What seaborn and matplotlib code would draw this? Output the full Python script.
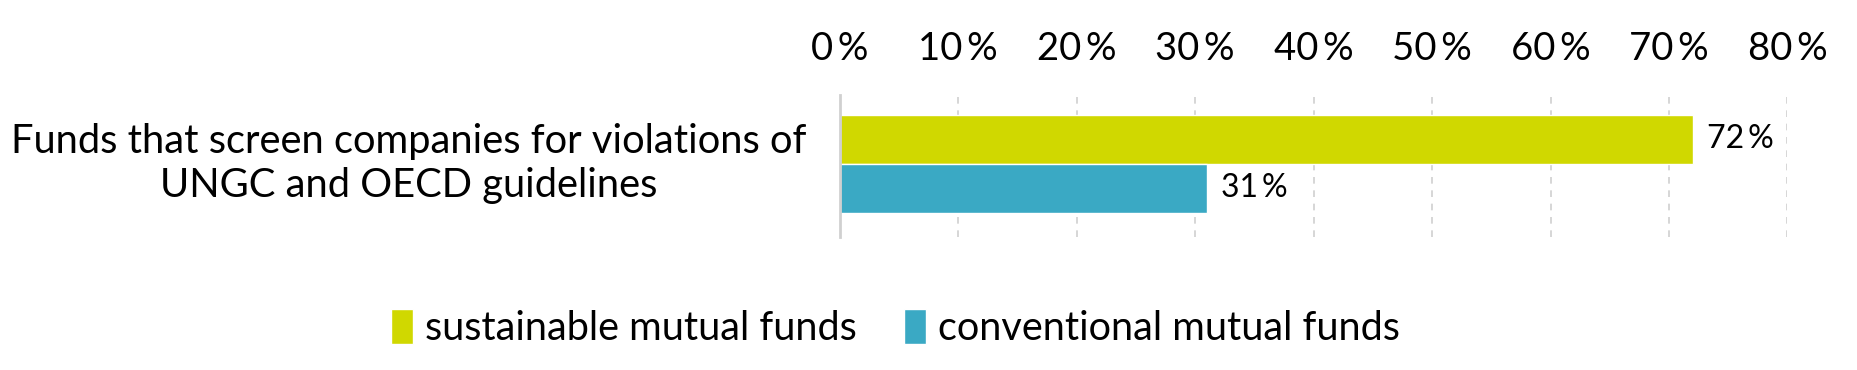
import matplotlib
matplotlib.use("Agg")
import matplotlib.pyplot as plt
import seaborn as sns
import pandas as pd
from matplotlib.ticker import FuncFormatter

categories = ["Funds that screen companies for violations of\nUNGC and OECD guidelines"]
series_names = ["sustainable mutual funds", "conventional mutual funds"]
sustainable = [72]
conventional = [31]
x_ticks = [0, 10, 20, 30, 40, 50, 60, 70, 80]
colors = ["#D0D800", "#3AA9C4"]

rows = []
for i, c in enumerate(categories):
    rows.append({"category": c, "series": series_names[0], "value": sustainable[i]})
    rows.append({"category": c, "series": series_names[1], "value": conventional[i]})
df = pd.DataFrame(rows)

sns.set_theme(style="white")
FONT = ["Lato", "DejaVu Sans"]
plt.rcParams["font.family"] = FONT
plt.rcParams["text.color"] = "black"

fig = plt.figure(figsize=(18.58, 3.70), dpi=100)
ax = fig.add_axes([0.452, 0.359, 0.510, 0.384])

sns.barplot(data=df, y="category", x="value", hue="series", orient="h",
            palette=colors, width=0.69, ax=ax, legend=True, saturation=1)

ax.set_xlim(0, 80)
ax.set_ylim(0.518, -0.482)
ax.set_xticks(x_ticks)
ax.xaxis.set_major_formatter(FuncFormatter(lambda v, p: f"{int(v)}\u2009%"))
ax.xaxis.tick_top()
ax.tick_params(axis="x", length=0, pad=20, labelsize=27.5, colors="black")
ax.set_yticks([])
ax.text(-0.455, 0.52, categories[0], transform=ax.transAxes, ha="center", va="center",
        fontsize=28.7, linespacing=1.22, color="black")

ax.set_xlabel("")
ax.set_ylabel("")
ax.grid(axis="x", color="#D0D0D0", linestyle=(0, (4, 4)), linewidth=1.2)
ax.grid(axis="y", visible=False)
for s in ["top", "right", "bottom"]:
    ax.spines[s].set_visible(False)
ax.spines["left"].set_color("#D0D0D0")
ax.spines["left"].set_linewidth(2)
ax.set_axisbelow(True)

for cont in ax.containers:
    ax.bar_label(cont, labels=[f"{v:.0f}\u2009%" for v in cont.datavalues],
                 padding=10, fontsize=23, color="black")

leg = ax.get_legend()
handles = leg.legend_handles
leg.remove()
fig.legend(handles, series_names, loc="center", bbox_to_anchor=(0.482, 0.114),
           ncol=2, frameon=False, handlelength=0.55, handleheight=1.0,
           handletextpad=0.3, columnspacing=1.2, prop={"size": 28.5})

fig.savefig("out.png", dpi=100)
